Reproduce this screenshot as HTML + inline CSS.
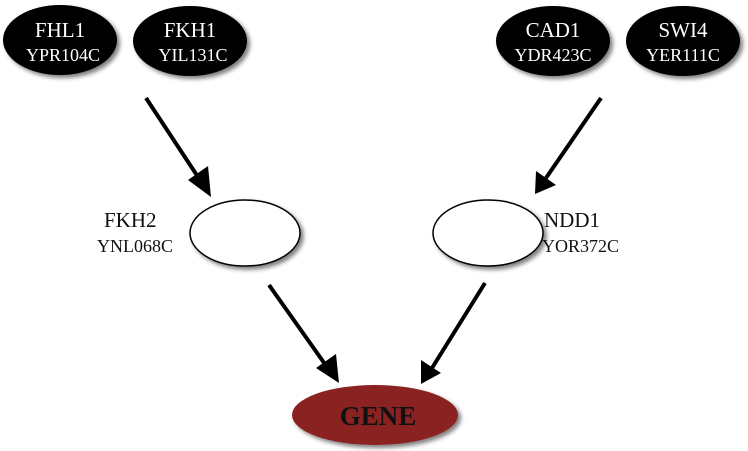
<!DOCTYPE html>
<html><head><style>
html,body{margin:0;padding:0;background:#fff;}
svg{display:block;font-family:"Liberation Serif",serif;}
</style></head><body>
<svg width="748" height="451" viewBox="0 0 748 451" xmlns="http://www.w3.org/2000/svg">
<defs>
<filter id="sh" x="-20%" y="-20%" width="150%" height="150%"><feGaussianBlur in="SourceAlpha" stdDeviation="2"/><feOffset dx="3" dy="3"/><feComponentTransfer><feFuncA type="linear" slope="0.5"/></feComponentTransfer><feMerge><feMergeNode/><feMergeNode in="SourceGraphic"/></feMerge></filter>
</defs>
<g fill="#000" filter="url(#sh)">
<ellipse cx="60" cy="40" rx="57" ry="35"/>
<ellipse cx="190" cy="41" rx="57" ry="35"/>
<ellipse cx="553" cy="41" rx="57" ry="35"/>
<ellipse cx="683" cy="41" rx="57" ry="35"/>
</g>
<g fill="#fff" font-size="21" text-anchor="middle">
<text x="60" y="37">FHL1</text><text x="190" y="37">FKH1</text>
<text x="553" y="37">CAD1</text><text x="683" y="37">SWI4</text>
</g>
<g fill="#fff" font-size="18" text-anchor="middle">
<text x="63" y="61">YPR104C</text><text x="193" y="61">YIL131C</text>
<text x="553" y="61">YDR423C</text><text x="683" y="61">YER111C</text>
</g>
<g fill="#fff" stroke="#000" stroke-width="1.5" filter="url(#sh)">
<ellipse cx="245" cy="233" rx="55" ry="33"/>
<ellipse cx="488" cy="233" rx="55" ry="33"/>
</g>
<ellipse cx="375" cy="415" rx="83" ry="30" fill="#8b2020" filter="url(#sh)"/>
<text x="378" y="425" font-size="27" font-weight="bold" text-anchor="middle" fill="#111">GENE</text>
<g font-size="21" fill="#111">
<text x="104" y="227">FKH2</text><text x="544" y="227">NDD1</text>
</g>
<g font-size="18" fill="#111">
<text x="97" y="252">YNL068C</text><text x="542" y="252">YOR372C</text>
</g>
<g stroke="#000" stroke-width="4" fill="none">
<line x1="146" y1="98" x2="200" y2="180"/>
<line x1="601" y1="98" x2="546" y2="178"/>
<line x1="269" y1="285" x2="327" y2="367"/>
<line x1="485" y1="283" x2="432" y2="368"/>
</g>
<g fill="#000">
<polygon points="211,197 188,180 208,166"/>
<polygon points="535,194 536,171 556,185"/>
<polygon points="339,383 316,368 336,354"/>
<polygon points="421,384 421,360 441,373"/>
</g>
</svg>
</body></html>
